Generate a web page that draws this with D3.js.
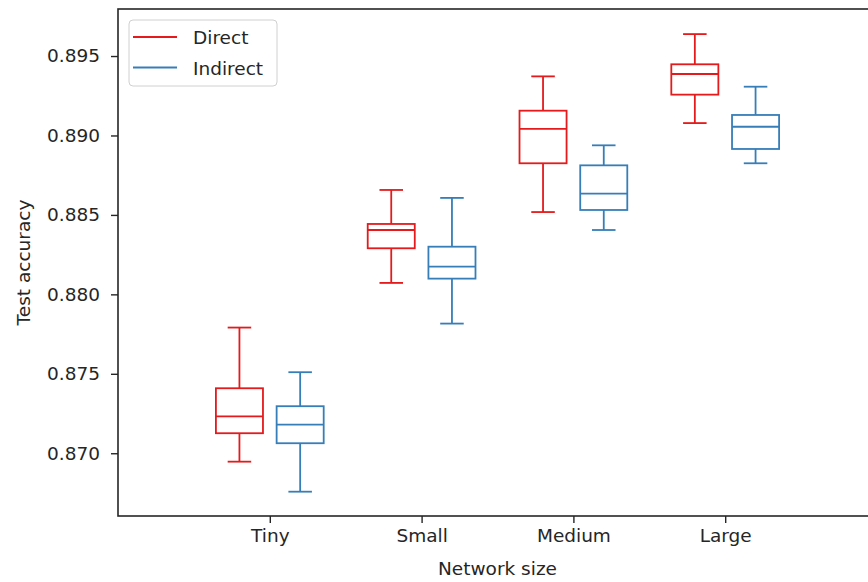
<!DOCTYPE html>
<html>
<head>
<meta charset="utf-8">
<script src="https://cdn.jsdelivr.net/npm/d3@7"></script>
<style>
    body { margin: 0; background: #fff; }
    text { font-family: "DejaVu Sans", sans-serif; fill: #262626; }
</style>
</head>
<body>
<div id="chart"></div>
<script>
// Dados
const categorias = ["Tiny", "Small", "Medium", "Large"];
const series = ["Direct", "Indirect"];
const cores = ["#e41a1c", "#377eb8"];

// [whisker baixo, q1, mediana, q3, whisker alto]
const direct = [
    [0.86947, 0.87126, 0.87232, 0.87409, 0.87791],
    [0.88072, 0.88290, 0.88405, 0.88443, 0.88657],
    [0.88518, 0.88825, 0.89041, 0.89156, 0.89372],
    [0.89078, 0.89257, 0.89387, 0.89448, 0.89638]
];
const indirect = [
    [0.86758, 0.87063, 0.87180, 0.87296, 0.87510],
    [0.87816, 0.88099, 0.88174, 0.88300, 0.88607],
    [0.88405, 0.88531, 0.88634, 0.88812, 0.88938],
    [0.88825, 0.88915, 0.89055, 0.89129, 0.89307]
];
const yTicks = [0.870, 0.875, 0.880, 0.885, 0.890, 0.895];

// Passo 1 - tamanhos
const W = 868, H = 582;
const margin = { top: 9, left: 118, bottom: 66 };
const plotRight = 877;

const svg = d3.select("#chart")
    .append("svg")
    .attr("width", W)
    .attr("height", H);

// Passo 2 - escalas
const x = d3.scaleLinear().domain([0, 5]).range([margin.left, plotRight]);
const y = d3.scaleLinear().domain([0.86605, 0.89796]).range([H - margin.bottom, margin.top]);

const offset = 0.2;     // deslocamento de cada caixa
const boxW = 0.31;      // largura da caixa em unidades do eixo x

const dados = [];
categorias.forEach((c, i) => {
    dados.push({ cat: c, pos: i + 1 - offset, v: direct[i], cor: cores[0] });
    dados.push({ cat: c, pos: i + 1 + offset, v: indirect[i], cor: cores[1] });
});

// Passo 3 - caixas
const g = svg.append("g");
const caixa = g.selectAll(".box")
    .data(dados)
    .enter()
    .append("g")
    .attr("class", "box")
    .attr("stroke", d => d.cor)
    .attr("stroke-width", 1.8)
    .attr("fill", "none");

// whiskers
caixa.append("line")
    .attr("x1", d => x(d.pos)).attr("x2", d => x(d.pos))
    .attr("y1", d => y(d.v[0])).attr("y2", d => y(d.v[1]));
caixa.append("line")
    .attr("x1", d => x(d.pos)).attr("x2", d => x(d.pos))
    .attr("y1", d => y(d.v[3])).attr("y2", d => y(d.v[4]));
// caps
[0, 4].forEach(k => {
    caixa.append("line")
        .attr("x1", d => x(d.pos - boxW / 4)).attr("x2", d => x(d.pos + boxW / 4))
        .attr("y1", d => y(d.v[k])).attr("y2", d => y(d.v[k]));
});
// caixa q1-q3
caixa.append("rect")
    .attr("x", d => x(d.pos - boxW / 2))
    .attr("width", d => x(d.pos + boxW / 2) - x(d.pos - boxW / 2))
    .attr("y", d => y(d.v[3]))
    .attr("height", d => y(d.v[1]) - y(d.v[3]));
// mediana
caixa.append("line")
    .attr("x1", d => x(d.pos - boxW / 2)).attr("x2", d => x(d.pos + boxW / 2))
    .attr("y1", d => y(d.v[2])).attr("y2", d => y(d.v[2]));

// Passo 4 - eixos
const eixoX = svg.append("g")
    .attr("transform", `translate(0, ${H - margin.bottom})`)
    .call(d3.axisBottom(x).tickValues([1, 2, 3, 4]).tickFormat((d, i) => categorias[i]).tickSize(7).tickPadding(6));
const eixoY = svg.append("g")
    .attr("transform", `translate(${margin.left}, 0)`)
    .call(d3.axisLeft(y).tickValues(yTicks).tickFormat(d3.format(".3f")).tickSize(7).tickPadding(11));

[eixoX, eixoY].forEach(e => {
    e.select(".domain").remove();
    e.selectAll("line").attr("stroke", "#262626").attr("stroke-width", 1.4);
    e.selectAll("text").style("font-size", "18.5px").attr("fill", "#262626");
});

// moldura
svg.append("rect")
    .attr("x", margin.left)
    .attr("y", margin.top)
    .attr("width", plotRight - margin.left)
    .attr("height", H - margin.bottom - margin.top)
    .attr("fill", "none")
    .attr("stroke", "#262626")
    .attr("stroke-width", 1.6);

// títulos dos eixos
svg.append("text")
    .attr("x", x(2.5))
    .attr("y", 575)
    .attr("text-anchor", "middle")
    .style("font-size", "18.5px")
    .text("Network size");
svg.append("text")
    .attr("transform", `translate(30, ${(margin.top + H - margin.bottom) / 2}) rotate(-90)`)
    .attr("text-anchor", "middle")
    .style("font-size", "18.5px")
    .text("Test accuracy");

// Passo 5 - legenda
const leg = svg.append("g").attr("transform", "translate(129, 20)");
leg.append("rect")
    .attr("width", 148)
    .attr("height", 66)
    .attr("rx", 4)
    .attr("fill", "white")
    .attr("fill-opacity", 0.8)
    .attr("stroke", "#d0d0d0");
series.forEach((s, i) => {
    const yy = 17 + i * 30.5;
    leg.append("line")
        .attr("x1", 4).attr("x2", 48)
        .attr("y1", yy).attr("y2", yy)
        .attr("stroke", cores[i])
        .attr("stroke-width", 2);
    leg.append("text")
        .attr("x", 64)
        .attr("y", yy + 7)
        .style("font-size", "18.5px")
        .text(s);
});
</script>
</body>
</html>
